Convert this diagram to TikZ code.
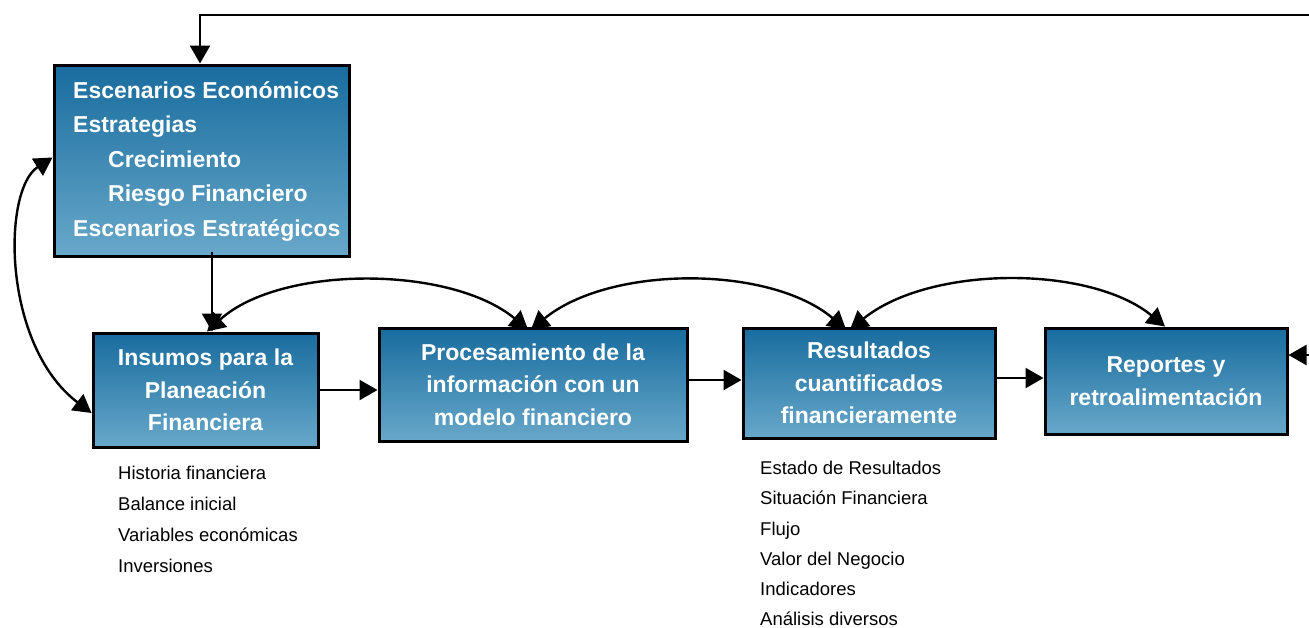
\documentclass[tikz,border=0pt]{standalone}
\usepackage{fontspec}
\setmainfont{Liberation Sans}
\usetikzlibrary{arrows.meta}
\definecolor{boxtop}{RGB}{24,108,158}
\definecolor{boxbot}{RGB}{104,168,202}
\tikzset{
  box/.style={draw=black, line width=3pt, top color=boxtop, bottom color=boxbot,
    text=white, inner sep=0pt, align=center,
    font=\fontsize{23}{32.5}\selectfont\bfseries},
  conn/.style={line width=2.4pt, -{Triangle[length=18pt,width=20pt]}},
  dconn/.style={line width=2.4pt, {Triangle[length=18pt,width=20pt]}-{Triangle[length=18pt,width=20pt]}},
  listtxt/.style={anchor=north west, inner sep=0pt, align=left}
}
\begin{document}
\begin{tikzpicture}[x=1pt,y=-1pt]
\useasboundingbox (0,0) rectangle (1309,627);
\fill[white] (0,0) rectangle (1309,627);

\node[box, minimum width=295pt, minimum height=191pt] (esc) at (201.5,160.5) {};
\node[anchor=west, inner sep=0pt, align=left, text=white,
      font=\fontsize{23}{34.5}\selectfont\bfseries] (esctxt) at (73,161)
  {Escenarios Económicos\\Estrategias\\\hspace*{35pt}Crecimiento\\\hspace*{35pt}Riesgo Financiero\\Escenarios Estratégicos};

\node[box, minimum width=225pt, minimum height=114pt] (ins) at (205.5,390)
  {Insumos para la\\Planeación\\Financiera};
\node[box, minimum width=308pt, minimum height=113pt] (pro) at (533,384.5)
  {Procesamiento de la\\información con un\\modelo financiero};
\node[box, minimum width=252pt, minimum height=110pt] (res) at (869,383)
  {Resultados\\cuantificados\\financieramente};
\node[box, minimum width=242pt, minimum height=106pt] (rep) at (1166,381)
  {Reportes y\\retroalimentación};

\node[listtxt, font=\fontsize{18.5}{31}\selectfont] (inslist) at (118,466)
  {Historia financiera\\Balance inicial\\Variables económicas\\Inversiones};
\node[listtxt, font=\fontsize{18.5}{30.2}\selectfont] (reslist) at (760,461)
  {Estado de Resultados\\Situación Financiera\\Flujo\\Valor del Negocio\\Indicadores\\Análisis diversos};

% feedback loop free ends
\coordinate (fbtop) at (1309,15);
\coordinate (fbright) at (1309,355);

\draw[conn] (fbtop) -- (200,15) -- (esc.north -| 200,0);
\draw[conn] (fbright) -- (fbright -| rep.east);

\draw[conn] ([xshift=10.5pt,yshift=6pt]esc.south) -- ([xshift=6.5pt]ins.north);
\draw[dconn] ([yshift=3pt]esc.west) .. controls (2,190) and (2,345) .. ([yshift=-23pt]ins.west);

\draw[dconn] ([xshift=1.5pt]ins.north) .. controls (280,265) and (450,265) .. ([xshift=-5pt,yshift=-3pt]pro.north);
\draw[dconn] ([xshift=-2pt,yshift=-3pt]pro.north) .. controls (610,265) and (770,265) .. ([xshift=-23pt,yshift=-3pt]res.north);
\draw[dconn] ([xshift=-19pt,yshift=-3pt]res.north) .. controls (930,265) and (1090,265) .. ([xshift=-1pt]rep.north);

\draw[conn] (ins.east |- 0,390) -- (pro.west |- 0,390);
\draw[conn] (pro.east |- 0,380) -- (res.west |- 0,380);
\draw[conn] (res.east |- 0,378) -- (rep.west |- 0,378);
\end{tikzpicture}
\end{document}
